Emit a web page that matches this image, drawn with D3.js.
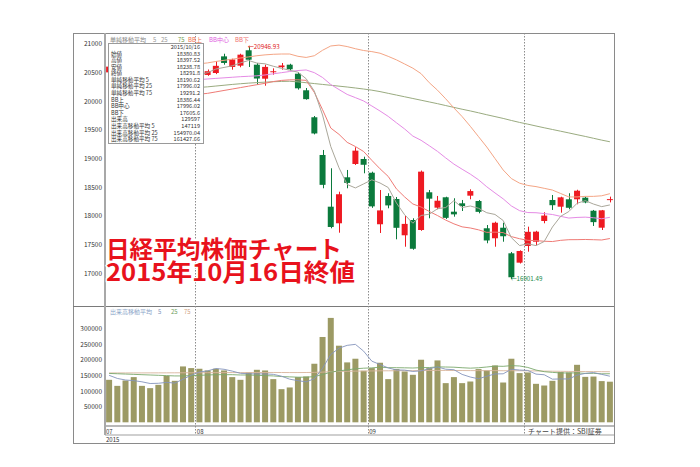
<!DOCTYPE html>
<html><head><meta charset="utf-8">
<script src="https://cdn.jsdelivr.net/npm/d3@7/dist/d3.min.js"></script>
<style>
html,body{margin:0;padding:0;background:#fff}
svg{display:block}
text{font-family:"Noto Sans CJK JP","Noto Sans",sans-serif}
</style>
</head><body>
<svg id="chart" width="700" height="467"></svg>
<script>
// ---------------- data ----------------
const dates = ["2015/07/16","2015/07/17","2015/07/21","2015/07/22","2015/07/23","2015/07/24","2015/07/27","2015/07/28","2015/07/29","2015/07/30","2015/07/31",
"2015/08/03","2015/08/04","2015/08/05","2015/08/06","2015/08/07","2015/08/10","2015/08/11","2015/08/12","2015/08/13","2015/08/14","2015/08/17","2015/08/18","2015/08/19","2015/08/20","2015/08/21","2015/08/24","2015/08/25","2015/08/26","2015/08/27","2015/08/28","2015/08/31",
"2015/09/01","2015/09/02","2015/09/03","2015/09/04","2015/09/07","2015/09/08","2015/09/09","2015/09/10","2015/09/11","2015/09/14","2015/09/15","2015/09/16","2015/09/17","2015/09/18","2015/09/24","2015/09/25","2015/09/28","2015/09/29","2015/09/30",
"2015/10/01","2015/10/02","2015/10/05","2015/10/06","2015/10/07","2015/10/08","2015/10/09","2015/10/13","2015/10/14","2015/10/15","2015/10/16"];

const open  = [20500,20620,20750,20700,20650,20600,20450,20250,20400,20450,20550,20600,20455,20489,20779,20594,20617,20885,20634,20390,20505,20590,20634,20477,20188,19718,19061,18160,17871,18672,18904,18991,18752,17854,18347,18294,17662,17928,17754,18411,18143,18324,18073,18219,18352,18259,17784,17610,17794,17348,17185,17476,17550,17911,18277,18160,18289,18289,18317,18090,17794,18280.83];
const high  = [20650,20680,20850,20730,20700,20620,20480,20380,20450,20560,20600,20620,20550,20698,20825,20738,20825,20946.93,20663,20634,20570,20663,20650,20507,20228,19740,19148,18829,18421,18800,19195,19031,18770,18451,18394,18329,17998,17958,18790,18451,18347,18334,18307,18277,18463,18277,17841,17899,17881,17371,17400,17812,17740,18063,18364,18334,18394,18455,18334,18103,18103,18335];
const low   = [20480,20580,20700,20570,20600,20500,20330,20200,20280,20420,20520,20500,20440,20470,20634,20547,20589,20594,20285,20268,20460,20547,20540,20200,20024,19420,18481,17784,17707,18481,18887,18742,18140,17702,18132,17592,17463,17410,17740,17958,18115,17946,17986,18085,18289,18045,17523,17463,17550,16901.49,17170,17376,17493,17871,18103,18056,18115,18202,18220,17824,17754,18235];
const close = [20600.12,20650.92,20841.97,20593.67,20683.95,20544.53,20350.10,20328.89,20302.91,20522.83,20585.24,20548.11,20520.36,20614.06,20664.44,20724.56,20808.69,20720.75,20392.77,20595.55,20519.45,20620.26,20554.47,20222.63,20033.52,19435.83,18540.68,17806.70,18376.83,18574.44,19136.32,18890.48,18165.69,18095.40,18182.39,17792.16,17860.47,17427.08,18770.51,18299.62,18264.22,17965.70,18026.48,18171.60,18432.27,18070.21,17571.83,17880.51,17645.11,16930.84,17388.15,17722.42,17725.13,18005.49,18186.10,18322.98,18141.17,18438.67,18234.74,17891.00,18096.90,18291.80];

const sma5  = [20264,20438,20588,20630,20674,20663,20603,20500,20442,20410,20418,20458,20496,20558,20586,20614,20666,20707,20662,20649,20607,20570,20537,20503,20390,20173,19757,19208,18839,18547,18487,18557,18629,18573,18494,18225,18019,17872,18007,18030,18124,18145,18265,18146,18172,18133,18055,18025,17920,17620,17483,17513,17482,17554,17806,17992,18076,18219,18265,18206,18161,18190.62];
const sma25 = [20340,20345,20350,20352,20355,20357,20358,20360,20362,20365,20370,20375,20385,20395,20405,20415,20425,20432,20440,20455,20475,20495,20515,20532,20542,20495,20411,20289,20201,20116,20060,20002,19915,19827,19733,19622,19514,19390,19317,19222,19124,19010,18902,18813,18727,18629,18507,18400,18297,18173,18091,18058,18055,18040,18024,17992,17962,17973,17978,17967,17950,17975];
const sma75 = [20110,20122,20135,20150,20162,20175,20188,20198,20208,20218,20228,20238,20248,20262,20276,20290,20302,20313,20322,20330,20337,20342,20345,20335,20320,20305,20290,20275,20260,20245,20228,20210,20190,20165,20135,20105,20075,20045,20015,19985,19955,19922,19890,19858,19828,19796,19762,19730,19698,19662,19628,19598,19566,19535,19505,19475,19445,19414,19384,19352,19320,19291.2];
const bbUpper = [20620,20630,20640,20650,20655,20660,20660,20655,20650,20645,20645,20650,20665,20690,20710,20730,20750,20770,20790,20805,20815,20820,20820,20780,20760,20790,20885,20960,20975,20950,20912,20881,20862,20834,20779,20718,20646,20573,20478,20320,20190,20040,19880,19730,19560,19380,19200,19000,18800,18650,18570,18530,18510,18480,18450,18390,18330,18330,18340,18340,18350,18386.44];
const bbLower = [20050,20060,20070,20075,20080,20085,20090,20095,20100,20105,20110,20120,20135,20160,20185,20210,20235,20260,20285,20310,20340,20360,20370,20370,20361,20150,19850,19530,19421,19281,19208,19122,18968,18820,18687,18470,18330,18207,18155,18077,18006,17927,17861,17809,17789,17757,17713,17717,17709,17639,17602,17574,17569,17558,17553,17574,17585,17586,17589,17585,17580,17605.6];

const volume = [135600,116300,133400,144200,116300,109000,119500,148400,132400,178300,173000,170900,165500,170900,165500,144200,135600,159100,167600,165500,137800,105800,111200,144200,146300,186900,272300,333200,244500,191200,202900,164400,173000,190100,137800,169900,162200,151600,199700,173000,197500,125000,144200,125000,130200,169900,165500,181400,127000,202900,157000,159100,122800,117400,132400,160300,159100,183500,145000,146000,131500,129597];
const volMa5  = [150000,140000,135000,133000,129200,123800,124500,127500,125100,137500,150300,160600,164000,171700,169200,163400,156300,155100,154400,154400,153100,147200,137600,132900,129100,138900,172200,216600,236600,245600,248800,227200,195200,184300,173600,167000,166600,162300,164200,171300,176800,169400,167900,152900,144400,138900,147000,154400,154800,169300,166800,165500,153800,151800,137700,138400,138400,150500,156100,158800,153000,147119];
const volMa25 = [156000,155000,154000,153000,152000,151000,150000,149000,148000,148000,149000,150000,151000,152000,152000,152000,151000,151000,150000,149000,148000,146000,145000,144000,143900,145900,152200,160100,164200,167200,170900,172700,173700,176000,174400,174300,173900,173300,174500,174800,176900,176500,175900,174200,172800,174100,176500,179300,178600,180900,179700,175100,166700,161600,159300,157600,157400,157800,156000,156300,154800,154970.04];
const volMa75 = [157500,157600,157600,157700,157700,157800,157800,157900,158000,158100,158200,158300,158400,158500,158600,158700,158700,158800,158900,159000,159000,158900,158800,158800,158900,159300,160200,161500,162300,162800,163300,163600,163900,164300,164400,164600,164700,164800,165100,165300,165600,165500,165400,165200,165000,164900,164900,164900,164600,164700,164500,164300,163900,163400,163000,162700,162400,162200,162000,161800,161600,161427.66];

const priceTicks = [17000,17500,18000,18500,19000,19500,20000,20500,21000];
const volumeTicks = [50000,100000,150000,200000,250000,300000];

const priceLegend = [["単純移動平均","#888888"],["5","#999999"],["25","#999999"],["75","#6e9a4a"],["BB上","#f07050"],["BB中心","#e060e0"],["BB下","#f07070"]];
const volumeLegend = [["出来高移動平均","#8aa4c8"],["5","#7f93b8"],["25","#6ea060"],["75","#d0a080"]];

const infoDate = "2015/10/16";
const infoLabels = ["始値","高値","安値","終値","単純移動平均 5","単純移動平均 25","単純移動平均 75","BB上","BB中心","BB下","出来高","出来高移動平均 5","出来高移動平均 25","出来高移動平均 75"];
const infoValues = ["18380.83","18397.52","18238.78","18291.8","18190.62","17996.02","19291.2","18386.44","17996.02","17605.6","129597","147119","154970.04","161427.66"];

const titleLines = ["日経平均株価チャート","2015年10月16日終値"];
const yearLabel = "2015";
const creditText = "チャート提供：SBI証券";
const highLabel = "←20946.93";
const lowLabel = "←16901.49";

// ---------------- layout ----------------
const svg = d3.select("#chart");
const frameL = 73, frameR = 614, frameT = 33, frameB = 443;
const plotL = 105, plotR = 614;
const priceTop = 33, priceBot = 306;
const volTop = 306, volBot = 422.3;
const axisY1 = 426, axisY2 = 435;
const creditX = 525;

const x = d3.scaleBand().domain(d3.range(dates.length)).range([plotL, plotR]).paddingInner(0.27).paddingOuter(0.135);
const bw = x.bandwidth();
const cx = i => x(i) + bw / 2;
const y = d3.scaleLinear().domain([16430, 21186]).range([priceBot, priceTop]);
const yv = d3.scaleLinear().domain([0, 371200]).range([volBot, volTop]);

// month boundaries
const monthStarts = [];
dates.forEach((d, i) => { if (i === 0 || d.slice(5,7) !== dates[i-1].slice(5,7)) monthStarts.push(i); });
const boundaryX = i => x(i) - x.step() * x.paddingInner() / 2;

// frame
const g = svg.append("g");
g.append("rect").attr("x", frameL+0.5).attr("y", frameT+0.5).attr("width", frameR-frameL).attr("height", frameB-frameT)
  .attr("fill", "#fff").attr("stroke", "#8a8a8a");
g.append("line").attr("x1", frameL).attr("x2", frameR).attr("y1", priceBot+0.5).attr("y2", priceBot+0.5).attr("stroke", "#7a7a7a");
g.append("line").attr("x1", plotL).attr("x2", frameR).attr("y1", axisY1).attr("y2", axisY1).attr("stroke", "#a0a0a0").attr("stroke-width", 1.6);
g.append("line").attr("x1", plotL).attr("x2", frameR).attr("y1", axisY2).attr("y2", axisY2).attr("stroke", "#a0a0a0").attr("stroke-width", 1.2);
g.append("line").attr("x1", plotL).attr("x2", plotL).attr("y1", frameT).attr("y2", axisY2).attr("stroke", "#a8a8a8").attr("stroke-width", 2);

// month dashed lines
monthStarts.filter(i => i > 0).forEach(i => {
  const bx = Math.round(boundaryX(i)) + 0.5;
  g.append("line").attr("x1", bx).attr("x2", bx).attr("y1", frameT).attr("y2", axisY2)
    .attr("stroke", "#8c8c8c").attr("stroke-dasharray", "1.5,1.5");
});

// y axes (labels only)
const yAxis = d3.axisLeft(y).tickValues(priceTicks).tickSize(0).tickPadding(2).tickFormat(d3.format("d"));
const ya = g.append("g").attr("transform", `translate(${plotL-1},0)`).call(yAxis);
ya.select(".domain").remove();
ya.selectAll("text").attr("font-size", 6.5).attr("fill", "#333").attr("font-family", "Liberation Sans, Arial, sans-serif");
const vAxis = d3.axisLeft(yv).tickValues(volumeTicks).tickSize(0).tickPadding(2).tickFormat(d3.format("d"));
const va = g.append("g").attr("transform", `translate(${plotL-1},0)`).call(vAxis);
va.select(".domain").remove();
va.selectAll("text").attr("font-size", 6.5).attr("fill", "#333").attr("font-family", "Liberation Sans, Arial, sans-serif");

// volume bars
g.append("g").selectAll("rect").data(volume).join("rect")
  .attr("x", (d,i) => x(i)).attr("width", bw)
  .attr("y", d => yv(d)).attr("height", d => volBot - yv(d))
  .attr("fill", "#9c9a64");

// volume MA lines
const vline = d3.line().x((d,i) => cx(i)).y(d => yv(d));
[[volMa75,"#d8b49c"],[volMa25,"#7aa86c"],[volMa5,"#8494bc"]].forEach(([arr,col]) => {
  g.append("path").attr("d", vline(arr)).attr("fill","none").attr("stroke",col).attr("stroke-width",0.9);
});

// candles
const up = i => close[i] >= open[i];
const candles = g.append("g").selectAll("g").data(d3.range(dates.length)).join("g");
const cUp = "#ee1a22", cDown = "#0b7a3c";
candles.append("line")
  .attr("x1", i => Math.round(cx(i))+0.5).attr("x2", i => Math.round(cx(i))+0.5)
  .attr("y1", i => y(high[i])).attr("y2", i => y(low[i]))
  .attr("stroke", i => up(i) ? cUp : cDown).attr("stroke-width", 1);
candles.append("rect")
  .attr("x", i => x(i)).attr("width", bw)
  .attr("y", i => y(Math.max(open[i], close[i])))
  .attr("height", i => Math.max(1, Math.abs(y(open[i]) - y(close[i]))))
  .attr("fill", i => up(i) ? cUp : cDown);

// price lines
const pline = d3.line().x((d,i) => cx(i)).y(d => y(d));
[[sma75,"#9aab80"],[sma25,"#e58be5"],[bbLower,"#ef7b76"],[bbUpper,"#f4a585"],[sma5,"#aaa79a"]].forEach(([arr,col]) => {
  g.append("path").attr("d", pline(arr)).attr("fill","none").attr("stroke",col).attr("stroke-width",1);
});

// high / low annotations
const iHigh = d3.maxIndex(high), iLow = d3.minIndex(low);
g.append("text").attr("x", cx(iHigh) - 1).attr("y", y(high[iHigh])).attr("dominant-baseline","central")
  .attr("font-size", 6.2).attr("fill", "#e02020").attr("font-family","DejaVu Sans Mono, monospace").text(highLabel);
g.append("text").attr("x", cx(iLow) - 1).attr("y", y(low[iLow])).attr("dominant-baseline","central")
  .attr("font-size", 6.2).attr("fill", "#1a8a4a").attr("font-family","DejaVu Sans Mono, monospace").text(lowLabel);

// legends
const legendPriceX = [110,153,161,178,188,209,235];
priceLegend.forEach(([t,c],k) => {
  g.append("text").attr("x", legendPriceX[k]).attr("y", 39).attr("dominant-baseline","central")
    .attr("font-size", 6).attr("fill", c).text(t);
});
const legendVolX = [110,158,171,184];
volumeLegend.forEach(([t,c],k) => {
  g.append("text").attr("x", legendVolX[k]).attr("y", 311.7).attr("dominant-baseline","central")
    .attr("font-size", 6).attr("fill", c).text(t);
});

// x labels (the label under the credit box is hidden in the reference)
monthStarts.filter(i => boundaryX(i) < creditX - 4).forEach(i => {
  const bx = i === 0 ? plotL + 1 : boundaryX(i) + 1.5;
  g.append("text").attr("x", bx).attr("y", 431).attr("dominant-baseline","central")
    .attr("font-size", 6).attr("fill", "#333").attr("font-family","Liberation Sans, Arial, sans-serif").text(dates[i].slice(5,7));
});
g.append("text").attr("x", plotL+1).attr("y", 439.5).attr("dominant-baseline","central")
  .attr("font-size", 6).attr("fill", "#333").attr("font-family","Liberation Sans, Arial, sans-serif").text(yearLabel);

// credit
g.append("rect").attr("x", creditX).attr("y", axisY1+1).attr("width", 84).attr("height", axisY2-axisY1-2).attr("fill","#fff");
g.append("text").attr("x", creditX+3).attr("y", 430.6).attr("dominant-baseline","central")
  .attr("font-size", 7).attr("fill", "#444").text(creditText);

// info box
const bx0 = 108, by0 = 43, bW = 95, bH = 100;
g.append("rect").attr("x", bx0+0.5).attr("y", by0+0.5).attr("width", bW).attr("height", bH).attr("fill","#fff").attr("stroke","#9a9a9a");
const rowH = 6.58;
g.append("text").attr("x", bx0+bW-3).attr("y", by0+4).attr("text-anchor","end").attr("dominant-baseline","central")
  .attr("font-size", 5.6).attr("fill","#333").text(infoDate);
infoLabels.forEach((t,k) => {
  const yy = by0 + 4 + (k+1)*rowH;
  g.append("text").attr("x", bx0+3).attr("y", yy).attr("dominant-baseline","central").attr("font-size",5.6).attr("fill","#333").text(t);
  g.append("text").attr("x", bx0+bW-3).attr("y", yy).attr("text-anchor","end").attr("dominant-baseline","central").attr("font-size",5.6).attr("fill","#333").text(infoValues[k]);
});

// title overlay
const tw = [236, 249];
titleLines.forEach((t,k) => {
  g.append("text").attr("x", 106).attr("y", k === 0 ? 257.5 : 281)
    .attr("font-size", 24).attr("font-weight", 700).attr("fill", "#e8121c")
    .attr("stroke", "#fff").attr("stroke-width", 2.5).attr("paint-order", "stroke")
    .attr("textLength", tw[k]).attr("lengthAdjust", "spacingAndGlyphs")
    .text(t);
});
</script>
</body></html>
